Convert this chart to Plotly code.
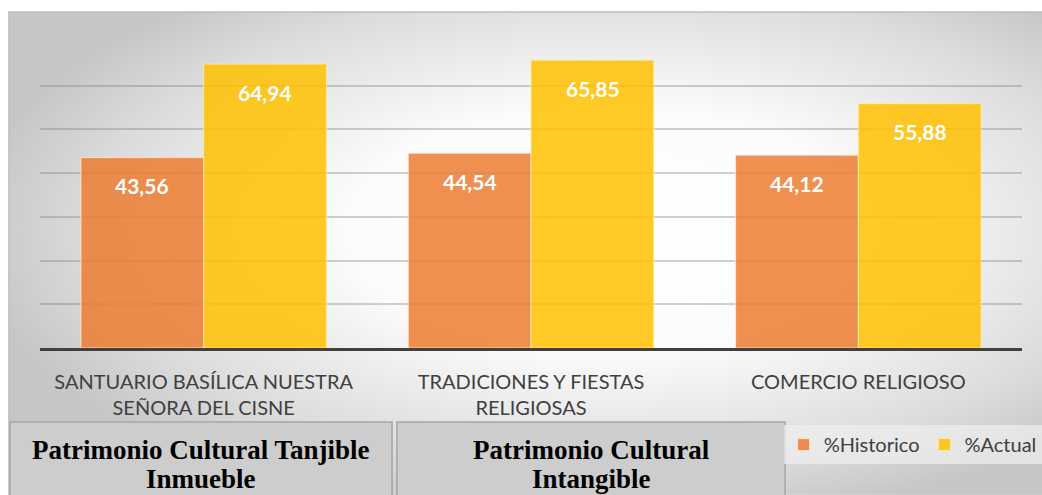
import base64
import plotly.graph_objects as go

categories = ["SANTUARIO BASÍLICA NUESTRA<br>SEÑORA DEL CISNE",
              "TRADICIONES Y FIESTAS<br>RELIGIOSAS",
              "COMERCIO RELIGIOSO"]
historico = [43.56, 44.54, 44.12]
actual = [64.94, 65.85, 55.88]
series_names = ["%Historico", "%Actual"]
group_labels = [["Patrimonio Cultural Tanjible", "Inmueble"],
                ["Patrimonio Cultural", "Intangible"]]

# soft radial grey background like the office chart style
svg = """<svg xmlns='http://www.w3.org/2000/svg' width='1033' height='483' preserveAspectRatio='none'>
<defs><radialGradient id='g' cx='0.58' cy='0.45' r='0.62'>
<stop offset='0' stop-color='#ffffff'/><stop offset='0.4' stop-color='#fcfcfc'/>
<stop offset='0.8' stop-color='#dcdcdc'/>
<stop offset='1' stop-color='#c6c6c6'/></radialGradient></defs>
<rect width='1033' height='483' fill='url(#g)'/></svg>"""
bg_src = "data:image/svg+xml;base64," + base64.b64encode(svg.encode()).decode()

fig = go.Figure()
fig.add_trace(go.Bar(x=categories, y=historico, name=series_names[0],
                     marker=dict(color="rgba(237,125,49,0.85)",
                                 line=dict(color="rgba(255,235,220,0.8)", width=1))))
fig.add_trace(go.Bar(x=categories, y=actual, name=series_names[1],
                     marker=dict(color="rgba(255,192,0,0.85)",
                                 line=dict(color="rgba(255,235,170,0.8)", width=1))))

# value labels near the top of each bar
for i, c in enumerate(categories):
    for vals, shift in ((historico, -61.5), (actual, 61.5)):
        fig.add_annotation(x=c, y=vals[i], text=f"{vals[i]:.2f}".replace(".", ","),
                           xshift=shift, yshift=-28, yanchor="middle", showarrow=False,
                           font=dict(family="Lato", size=21, color="white", weight="bold"))

fig.add_layout_image(source=bg_src, xref="paper", yref="paper", x=-0.0316, y=1.098,
                     sizex=1.052, sizey=1.578, sizing="stretch", layer="below",
                     xanchor="left", yanchor="top")
fig.add_shape(type="rect", xref="paper", yref="paper", x0=-0.0316, x1=1.03, y0=-0.6,
              y1=1.098, line=dict(color="#bdbdbd", width=1.5), layer="below")

# group boxes under the categories
box_x = [(-0.0306, 0.3585), (0.3635, 0.7587)]
for (x0, x1), lines in zip(box_x, group_labels):
    fig.add_shape(type="rect", xref="paper", yref="paper", x0=x0, x1=x1,
                  y0=-0.49, y1=-0.2418, fillcolor="#cdcdcd",
                  line=dict(color="#a6a6a6", width=1.5), layer="above")
    for k, line in enumerate(lines):
        fig.add_annotation(xref="paper", yref="paper", x=(x0 + x1) / 2, y=-0.3562,
                           yshift=7 - 29 * k,
                           xanchor="center", yanchor="middle", text=line, showarrow=False,
                           font=dict(family="Liberation Serif", size=27, color="black",
                                     weight="bold"))

fig.update_layout(
    width=1042, height=495,
    margin=dict(l=40, r=20, t=42, b=147, autoexpand=False),
    paper_bgcolor="white", plot_bgcolor="rgba(0,0,0,0)",
    barmode="group", bargap=0.25, bargroupgap=0,
    font=dict(family="Lato", size=20, color="#404040"),
    showlegend=True,
    legend=dict(orientation="h", x=1.02, y=-0.252, xanchor="right", yanchor="top",
                bgcolor="rgba(240,240,240,0.7)", font=dict(size=20, color="#404040"),
                itemwidth=30, traceorder="normal"),
    xaxis=dict(showline=True, linecolor="#404040", linewidth=3, ticks="",
               tickfont=dict(size=20, color="#404040"), ticklabelstandoff=14),
    yaxis=dict(range=[0, 70], dtick=10, showgrid=True, gridcolor="rgba(120,120,120,0.35)",
               gridwidth=1.5, showticklabels=False, zeroline=False),
)

fig.write_html("out.html", config={"displayModeBar": False},
               post_script="document.body.style.margin='0';")
